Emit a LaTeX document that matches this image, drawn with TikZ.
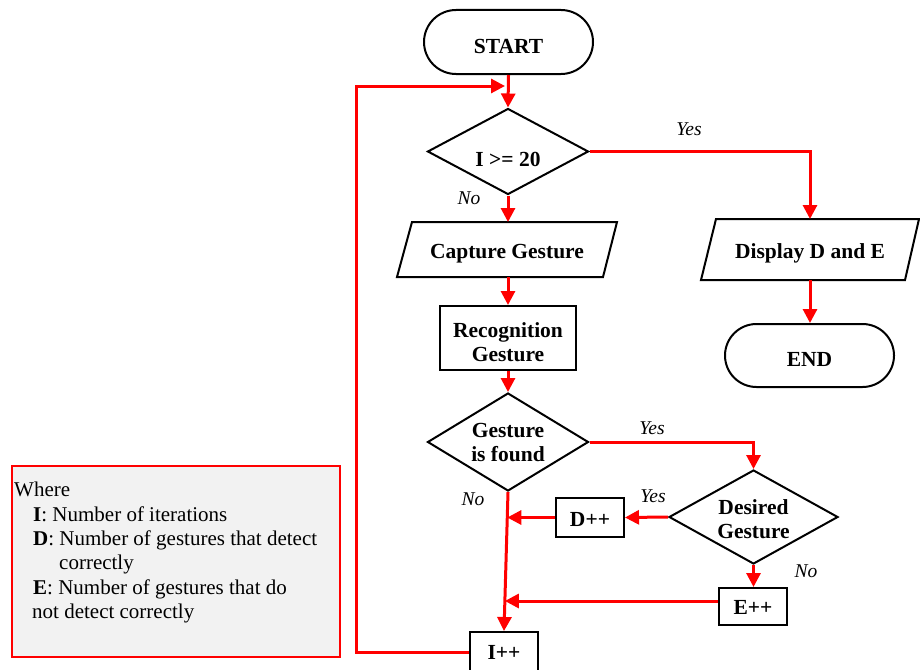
\documentclass[tikz,border=0pt]{standalone}
\usepackage{fontspec}
\setmainfont{Liberation Serif}
\usetikzlibrary{arrows.meta,shapes.geometric,shapes.misc,calc}
\definecolor{flowred}{HTML}{FF0000}
\definecolor{notegray}{HTML}{F2F2F2}
% centred lines whose first baseline sits #1 above the node centre
\newcommand\txtat[2]{\raisebox{#1}[0pt][0pt]{\begin{tabular}[t]{@{}c@{}}#2\end{tabular}}}
\begin{document}
\begin{tikzpicture}[x=1pt,y=-1pt,
  every node/.style={font=\fontsize{20.5}{24.5}\selectfont},
  box/.style={draw=black, line width=2pt, inner sep=0pt,
    font=\fontsize{21.5}{24.4}\selectfont\bfseries},
  terminal/.style={box, rounded rectangle, minimum width=169pt, minimum height=64pt},
  decision/.style={box, diamond},
  process/.style={box, rectangle},
  io/.style={box, draw=none, outer sep=0pt, rectangle},
  ioborder/.style={draw=black, line width=2pt, line join=miter},
  flow/.style={draw=flowred, line width=3pt, -{Triangle[length=14pt,width=14pt]}},
  tag/.style={font=\fontsize{19.5}{23}\selectfont\itshape, inner sep=0pt},
  note/.style={draw=flowred, line width=1.2pt, fill=notegray, minimum width=328pt, minimum height=191pt}
]
\useasboundingbox (0,0) rectangle (920,669);

% legend
\node[note] (legend) at (176,561.5) {};
\node[anchor=north west, inner sep=0pt, align=left, font=\fontsize{21}{24.4}\selectfont] (legendtext) at (14,482)
  {Where\\
   \hspace*{19pt}\textbf{I}: Number of iterations\\
   \hspace*{19pt}\textbf{D}: Number of gestures that detect\\
   \hspace*{45pt}correctly\\
   \hspace*{19pt}\textbf{E}: Number of gestures that do\\
   \hspace*{18pt}not detect correctly};

% main flow
\node[terminal] (start) at (508.5,42) {\txtat{-12pt}{START}};
\node[decision, minimum width=161pt, minimum height=86pt] (d1) at (508,151.5) {\txtat{-15pt}{I >= 20}};
\node[io, minimum width=220pt, minimum height=55pt] (cap) at (507,249.5) {\txtat{-8.8pt}{Capture Gesture}};
\node[process, minimum width=136pt, minimum height=64pt] (rec) at (508,338) {\txtat{0.7pt}{Recognition\\Gesture}};
\node[decision, minimum width=161pt, minimum height=98pt] (d2) at (508,442) {\txtat{4.7pt}{Gesture\\is found}};
\node[decision, minimum width=169pt, minimum height=94pt] (d3) at (753.5,517) {\txtat{3pt}{Desired\\Gesture}};
\node[process, minimum width=68pt, minimum height=39pt] (dpp) at (590,517.5) {\txtat{-9pt}{D++}};
\node[process, minimum width=68pt, minimum height=37pt] (epp) at (753,606.5) {\txtat{-7.5pt}{E++}};
\node[process, minimum width=68pt, minimum height=40pt] (ipp) at (504,652) {\txtat{-7pt}{I++}};

% right branch
\node[io, minimum width=218pt, minimum height=61pt] (disp) at (810,249.5) {\txtat{-8.8pt}{Display D and E}};
\node[terminal, minimum height=63pt] (end) at (809.5,355.5) {\txtat{-11.2pt}{END}};

% slanted outlines of the input/output boxes
\draw[ioborder] ($(cap.north west)+(15,0)$) -- (cap.north east) -- ($(cap.south east)+(-14,0)$) -- (cap.south west) -- cycle;
\draw[ioborder] ($(disp.north west)+(15,0)$) -- (disp.north east) -- ($(disp.south east)+(-14,0)$) -- (disp.south west) -- cycle;

% branch labels
\node[tag] (yes1) at (689,129) {Yes};
\node[tag] (no1) at (469,198) {No};
\node[tag] (yes2) at (652,428) {Yes};
\node[tag] (yes3) at (653,496) {Yes};
\node[tag] (no2) at (473,499) {No};
\node[tag] (no3) at (806,571) {No};

% helper points
\coordinate (loopx) at (356,0);
\coordinate (topin) at (505,86);
\coordinate (j1) at ($(d2.south)!0.18!(ipp.north)$);
\coordinate (j2) at ($(d2.south)!0.784!(ipp.north)$);

% connectors
\draw[flow] (start.south) -- (d1.north);
\draw[flow] (d1.east) -| (disp.north);
\draw[flow] (disp.south) -- (disp.south |- end.north);
\draw[flow] (d1.south) -- (d1.south |- cap.north);
\draw[flow] (cap.south -| rec.north) -- (rec.north);
\draw[flow] (rec.south) -- (d2.north);
\draw[flow] (d2.east) -| (d3.north);
\draw[flow] (d3.west) -- (dpp.east);
\draw[flow] (d3.south) -- (d3.south |- epp.north);
\draw[flow] (dpp.west) -- (dpp.west -| j1);
\draw[flow] ([yshift=5.5pt]epp.west) -- ([yshift=5.5pt]epp.west -| j2);
\draw[flow] (d2.south) -- (ipp.north);
\draw[flow] (ipp.west) -- (ipp.west -| loopx) |- (topin);
\end{tikzpicture}
\end{document}
